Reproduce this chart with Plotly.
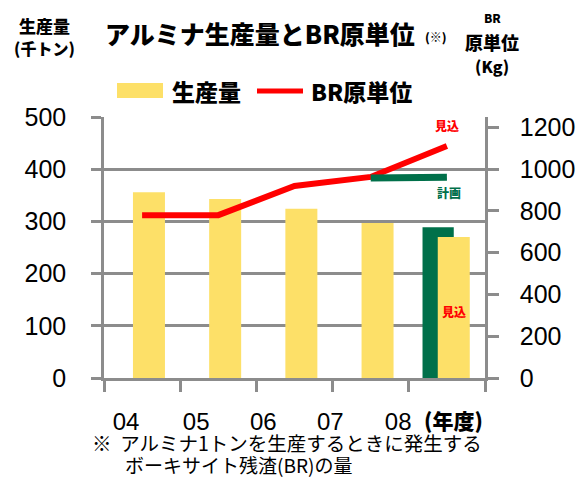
import plotly.graph_objects as go

years = ["04", "05", "06", "07", "08"]
x_pos = [0, 1, 2, 3, 4]
production = [356, 343, 324, 297, 270]          # 生産量 (千トン), 08 = 見込
plan_prod_x = [4]
plan_prod = [289]                                # 08 計画 生産量
br_unit = [780, 780, 920, 963, 1111]             # BR原単位 (Kg), 08 = 見込
plan_br_x = [3, 4]
plan_br = [958, 962]                             # BR原単位 計画
label_pos = [-0.21, 0.71, 1.59, 2.47, 3.36]

YELLOW = "#FDE068"
GREEN = "#00704A"
RED = "#FF0000"
GRID = "#8C8C8C"
JP = "Noto Sans CJK JP"
NUM = "Liberation Sans, Arial, sans-serif"

fig = go.Figure()
fig.add_trace(go.Bar(x=plan_prod_x, y=plan_prod, width=0.41, offset=-0.32,
                     marker=dict(color=GREEN, line=dict(width=0)), showlegend=False))
fig.add_trace(go.Bar(x=x_pos, y=production, width=0.42, offset=-0.12,
                     marker=dict(color=YELLOW, line=dict(width=0)), showlegend=False))
fig.add_trace(go.Scatter(x=x_pos, y=br_unit, yaxis="y2", mode="lines",
                         line=dict(color=RED, width=6), showlegend=False))
fig.add_trace(go.Scatter(x=plan_br_x, y=plan_br, yaxis="y2", mode="lines",
                         line=dict(color=GREEN, width=7), showlegend=False))

fig.update_layout(
    width=583, height=498,
    margin=dict(l=104, r=98, t=117, b=120, autoexpand=False),
    paper_bgcolor="white", plot_bgcolor="white",
    barmode="overlay",
    showlegend=False,
    xaxis=dict(range=[-0.5, 4.5], tickmode="array", tickvals=label_pos, ticktext=years,
               ticks="", showgrid=False, zeroline=False, automargin=False,
               showline=True, linecolor=GRID, linewidth=2.5,
               tickfont=dict(family=NUM, size=24, color="black"),
               ticklabelstandoff=20,
               minor=dict(tickmode="array", tickvals=[-0.5, 0.5, 1.5, 2.5, 3.5, 4.5],
                          ticks="outside", ticklen=11, tickwidth=2.5, tickcolor=GRID,
                          showgrid=False)),
    yaxis=dict(range=[0, 500], tickvals=[0, 100, 200, 300, 400, 500],
               ticks="outside", ticklen=10, tickwidth=2.5, tickcolor=GRID,
               showgrid=True, gridcolor=GRID, gridwidth=2.5, zeroline=False,
               showline=True, linecolor=GRID, linewidth=2.5, automargin=False,
               tickfont=dict(family=NUM, size=25, color="black"),
               ticklabelstandoff=20),
    yaxis2=dict(range=[0, 1250], tickvals=[0, 200, 400, 600, 800, 1000, 1200],
                overlaying="y", side="right",
                ticks="outside", ticklen=11, tickwidth=2.5, tickcolor=GRID,
                showgrid=False, zeroline=False, automargin=False,
                showline=True, linecolor=GRID, linewidth=2.5,
                tickfont=dict(family=NUM, size=25, color="black"),
                ticklabelstandoff=16),
)

ann = []
def t(x, y, text, size, color="black", bold=True, xanchor="center", family=JP):
    ann.append(dict(x=x, y=y, xref="paper", yref="paper", showarrow=False,
                    text=text,
                    font=dict(family=family, size=size, color=color,
                              weight=900 if bold else "normal"),
                    xanchor=xanchor, yanchor="middle"))

L, R, T, B = 104, 485, 117, 378
def px(x):
    return (x - L) / (R - L)
def py(y):
    return (B - y) / (B - T)

# Title and axis titles
t(px(103), py(33), "アルミナ生産量とBR原単位", 25, xanchor="left")
t(px(436), py(36), "(※)", 12)
t(px(45), py(26), "生産量", 17)
t(px(45), py(48), "(千トン)", 16)
t(px(492), py(17), "BR", 12)
t(px(492), py(42), "原単位", 18)
t(px(492), py(66), "(Kg)", 16)

# Legend
t(px(170), py(91), "生産量", 23, xanchor="left")
t(px(309), py(91), "BR原単位", 23, xanchor="left")

# Data annotations
t(px(447), py(126), "見込", 12, color=RED)
t(px(449), py(192), "計画", 12, color=GREEN)
t(px(454), py(311), "見込", 12, color=RED)

# Year unit
t(px(453), py(420), "(年度)", 21, xanchor="center")

# Footnote
t(px(90), py(443), "※&nbsp;&nbsp;アルミナ1トンを生産するときに発生する", 19.5, bold=False, xanchor="left")
t(px(123), py(464), "ボーキサイト残渣(BR)の量", 19, bold=False, xanchor="left")

fig.update_layout(annotations=ann)

shapes = [
    dict(type="rect", xref="paper", yref="paper", x0=px(117), x1=px(163),
         y0=py(98), y1=py(83), fillcolor=YELLOW, line=dict(width=0)),
    dict(type="line", xref="paper", yref="paper", x0=px(257), x1=px(303),
         y0=py(91), y1=py(91), line=dict(color=RED, width=5)),
]
fig.update_layout(shapes=shapes)

fig.write_html("out.html", config={"displayModeBar": False},
               post_script="document.body.style.margin='0';document.body.style.padding='0';")
